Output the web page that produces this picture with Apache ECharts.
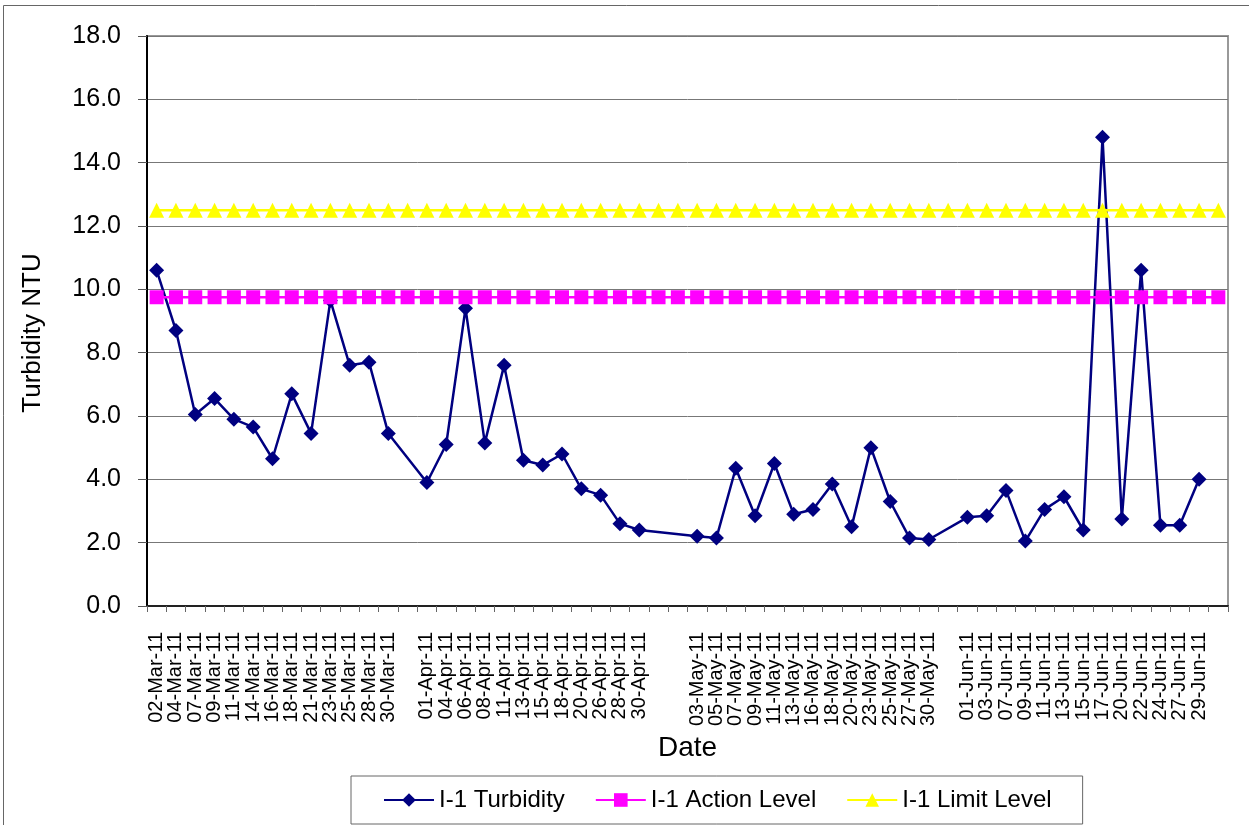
<!DOCTYPE html>
<html>
<head>
<meta charset="utf-8">
<script src="https://cdn.jsdelivr.net/npm/echarts@6/dist/echarts.min.js"></script>
<style>
  html, body { margin: 0; padding: 0; background: #fff; }
  #chart { width: 1249px; height: 825px; }
</style>
</head>
<body>
<div id="chart"></div>
<script>
// Category labels (blank entries are empty category slots)
const dates = [
  "02-Mar-11","04-Mar-11","07-Mar-11","09-Mar-11","11-Mar-11","14-Mar-11","16-Mar-11","18-Mar-11","21-Mar-11","23-Mar-11","25-Mar-11","28-Mar-11","30-Mar-11","",
  "01-Apr-11","04-Apr-11","06-Apr-11","08-Apr-11","11-Apr-11","13-Apr-11","15-Apr-11","18-Apr-11","20-Apr-11","26-Apr-11","28-Apr-11","30-Apr-11","","",
  "03-May-11","05-May-11","07-May-11","09-May-11","11-May-11","13-May-11","16-May-11","18-May-11","20-May-11","23-May-11","25-May-11","27-May-11","30-May-11","",
  "01-Jun-11","03-Jun-11","07-Jun-11","09-Jun-11","11-Jun-11","13-Jun-11","15-Jun-11","17-Jun-11","20-Jun-11","22-Jun-11","24-Jun-11","27-Jun-11","29-Jun-11",""
];

// I-1 Turbidity (NTU); null = no sample in that slot
const turbidity = [
  10.6, 8.7, 6.05, 6.55, 5.9, 5.65, 4.65, 6.7, 5.45, 9.65, 7.6, 7.7, 5.45, null,
  3.9, 5.1, 9.4, 5.15, 7.6, 4.6, 4.45, 4.8, 3.7, 3.5, 2.6, 2.4, null, null,
  2.2, 2.15, 4.35, 2.85, 4.5, 2.9, 3.05, 3.85, 2.5, 5.0, 3.3, 2.15, 2.1, null,
  2.8, 2.85, 3.65, 2.05, 3.05, 3.45, 2.4, 14.8, 2.75, 10.6, 2.55, 2.55, 4.0, null
];

const ACTION_LEVEL = 9.75;
const LIMIT_LEVEL = 12.5;
const actionLevel = dates.map(() => ACTION_LEVEL);
const limitLevel = dates.map(() => LIMIT_LEVEL);

const seriesNames = ["I-1 Turbidity", "I-1 Action Level", "I-1 Limit Level"];
const yMin = 0, yMax = 18, yStep = 2;

const FONT = "Liberation Sans, Arial, sans-serif";

const chart = echarts.init(document.getElementById('chart'), null, { renderer: 'canvas' });

chart.setOption({
  animation: false,
  backgroundColor: '#ffffff',
  textStyle: { fontFamily: FONT, color: '#000' },
  graphic: [{
    type: 'rect',
    shape: { x: 3.5, y: 5.5, width: 1300, height: 900 },
    style: { fill: 'none', stroke: '#666', lineWidth: 1 },
    silent: true
  }],
  grid: {
    left: 147, top: 36, right: 21, bottom: 219,
    show: true, borderColor: '#999', borderWidth: 2, backgroundColor: 'transparent'
  },
  legend: {
    left: 351, top: 776,
    padding: [12, 31, 12, 32],
    borderColor: '#666', borderWidth: 1,
    itemWidth: 50, itemHeight: 17, itemGap: 30,
    textStyle: { fontSize: 24, fontFamily: FONT, color: '#000' },
    data: seriesNames
  },
  xAxis: {
    type: 'category',
    data: dates,
    boundaryGap: true,
    name: 'Date',
    nameLocation: 'middle',
    nameGap: 126,
    nameTextStyle: { fontSize: 28, fontFamily: FONT, color: '#000' },
    axisLine: { show: true, lineStyle: { color: '#222', width: 2 } },
    axisTick: { show: true, interval: 0, length: 6, lineStyle: { color: '#666' } },
    axisLabel: { interval: 0, rotate: 90, fontSize: 20, margin: 26, color: '#000', fontFamily: FONT },
    splitLine: { show: false }
  },
  yAxis: {
    type: 'value',
    min: yMin, max: yMax, interval: yStep,
    name: 'Turbidity NTU',
    nameLocation: 'middle',
    nameRotate: 90,
    nameGap: 101,
    nameTextStyle: { fontSize: 26, fontFamily: FONT, color: '#000', padding: [0, 24, 0, 0] },
    axisLine: { show: true, lineStyle: { color: '#000', width: 2 } },
    axisTick: { show: true, length: 9, lineStyle: { color: '#555' } },
    axisLabel: { fontSize: 25, margin: 26, color: '#000', fontFamily: FONT,
      formatter: v => v.toFixed(1) },
    splitLine: { show: true, lineStyle: { color: '#777', width: 1 } }
  },
  series: [
    {
      name: seriesNames[0], type: 'line', data: turbidity, connectNulls: true,
      symbol: 'diamond', symbolSize: 15, showAllSymbol: true,
      lineStyle: { color: '#000080', width: 2.5 },
      itemStyle: { color: '#000080' }
    },
    {
      name: seriesNames[1], type: 'line', data: actionLevel,
      symbol: 'rect', symbolSize: 14, showAllSymbol: true,
      lineStyle: { color: '#FF00FF', width: 2.5 },
      itemStyle: { color: '#FF00FF' }
    },
    {
      name: seriesNames[2], type: 'line', data: limitLevel,
      symbol: 'triangle', symbolSize: 15, showAllSymbol: true,
      lineStyle: { color: '#FFFF00', width: 2.5 },
      itemStyle: { color: '#FFFF00' }
    }
  ]
});
</script>
</body>
</html>
